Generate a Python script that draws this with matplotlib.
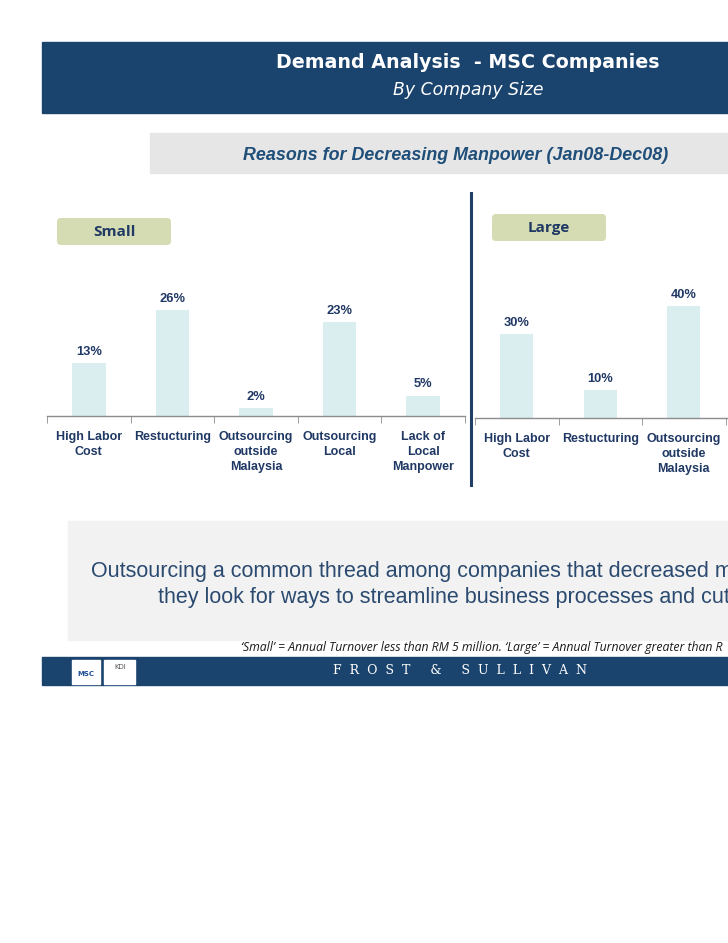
import matplotlib
matplotlib.use("Agg")
import matplotlib.pyplot as plt
from matplotlib.patches import Rectangle, FancyBboxPatch

# ---------------- data ----------------
small_categories = ["High Labor\nCost", "Restucturing", "Outsourcing\noutside\nMalaysia",
                    "Outsourcing\nLocal", "Lack of\nLocal\nManpower"]
small_values = [13, 26, 2, 23, 5]
large_categories = ["High Labor\nCost", "Restucturing", "Outsourcing\noutside\nMalaysia"]
large_values = [30, 10, 40]

title = "Demand Analysis  - MSC Companies"
subtitle = "By Company Size"
chart_title = "Reasons for Decreasing Manpower (Jan08-Dec08)"
takeaway_1 = "Outsourcing a common thread among companies that decreased m"
takeaway_2 = "they look for ways to streamline business processes and cut"
footnote = "\u2018Small\u2019 = Annual Turnover less than RM 5 million. \u2018Large\u2019 = Annual Turnover greater than R"
brand = "F  R  O  S  T     &     S  U  L  L  I  V  A  N"

W, H = 728, 943
NAVY = "#1a436e"
TEXT = "#1f3864"
BAR = "#daedef"
GRID = "#8c8c8c"

fig = plt.figure(figsize=(W / 100, H / 100), dpi=100)
bg = fig.add_axes([0, 0, 1, 1])
bg.set_xlim(0, W)
bg.set_ylim(H, 0)
bg.axis("off")

# header band
bg.add_patch(Rectangle((42, 42), W - 42, 71, color=NAVY, zorder=1))
bg.text(468, 63, title, ha="center", va="center", color="white",
        fontsize=13.7, fontweight="bold", family="DejaVu Sans", zorder=2)
bg.text(468, 90, subtitle, ha="center", va="center", color="white",
        fontsize=12.4, style="italic", family="DejaVu Sans", zorder=2)

# chart title band
bg.add_patch(Rectangle((150, 133), W - 150, 40, color="#e6e6e6", zorder=1))
bg.text(456, 155, chart_title, ha="center", va="center", color="#1f4e79",
        fontsize=12.9, fontweight="bold", style="italic", family="Liberation Sans", zorder=2)

# divider
bg.plot([471, 471], [193, 485], color="#1f3f66", lw=2.2, zorder=2)

# size tags
for (x0, y0, lbl) in [(57, 218, "Small"), (492, 214, "Large")]:
    bg.add_patch(FancyBboxPatch((x0 + 3, y0 + 3), 108, 21,
                                boxstyle="round,pad=3,rounding_size=4",
                                fc="#d5dcb3", ec="none", zorder=2))
    bg.text(x0 + 57, y0 + 14, lbl, ha="center", va="center", color=TEXT,
            fontsize=11, fontweight="bold", family="Open Sans", zorder=3)

# takeaway box
bg.add_patch(Rectangle((68, 521), W - 68, 119, color="#f2f2f2", zorder=1))
bg.text(91, 571, takeaway_1, ha="left", va="center", color="#2b4a6f",
        fontsize=15.5, family="Liberation Sans", zorder=2)
bg.text(158, 597, takeaway_2, ha="left", va="center", color="#2b4a6f",
        fontsize=15.5, family="Liberation Sans", zorder=2)

# footnote
bg.text(241, 647, footnote, ha="left", va="center", color="#1a1a1a",
        fontsize=8.8, style="italic", family="Open Sans", zorder=2)

# footer band
bg.add_patch(Rectangle((42, 657), W - 42, 28, color=NAVY, zorder=1))
bg.add_patch(Rectangle((72, 660), 28, 24, color="white", zorder=2))
bg.add_patch(Rectangle((104, 660), 31, 24, color="white", zorder=2))
bg.text(86, 674, "MSC", ha="center", va="center", color="#1f4e99", fontsize=5,
        fontweight="bold", zorder=3)
bg.text(120, 667, "KDI", ha="center", va="center", color="#555555", fontsize=5, zorder=3)
bg.text(460, 671, brand, ha="center", va="center", color="white",
        fontsize=9, family="DejaVu Serif", zorder=2)


def add_bar_axes(x0, x1, base, px_per_pct, ymax, cats, vals, ncat):
    top = base - px_per_pct * ymax
    ax = fig.add_axes([x0 / W, 1 - base / H, (x1 - x0) / W, (base - top) / H])
    ax.patch.set_alpha(0)
    xs = list(range(len(vals)))
    ax.bar(xs, vals, width=0.4, color=BAR, zorder=2)
    for x, v in zip(xs, vals):
        ax.text(x, v + 1.3 * (4.08 / px_per_pct), f"{v}%", ha="center", va="bottom",
                color=TEXT, fontsize=9.3, fontweight="bold", family="Liberation Sans")
    ax.set_xlim(-0.5, ncat - 0.5)
    ax.set_ylim(0, ymax)
    for s in ["top", "right", "left"]:
        ax.spines[s].set_visible(False)
    ax.spines["bottom"].set_color(GRID)
    ax.spines["bottom"].set_linewidth(1)
    ax.set_yticks([])
    ax.set_xticks(xs)
    ax.set_xticklabels(cats, color=TEXT, fontsize=9, fontweight="bold",
                       family="Liberation Sans", linespacing=1.3)
    ax.tick_params(axis="x", which="major", length=0, pad=11)
    ax.set_xticks([i - 0.5 for i in range(ncat + 1)], minor=True)
    ax.tick_params(axis="x", which="minor", length=5, color=GRID, direction="out")
    return ax


add_bar_axes(47, 465, 416, 4.08, 40, small_categories, small_values, 5)
add_bar_axes(475, 475 + 5 * 83.5, 418, 2.8, 50, large_categories, large_values, 5)

fig.savefig("out.png", dpi=100)
